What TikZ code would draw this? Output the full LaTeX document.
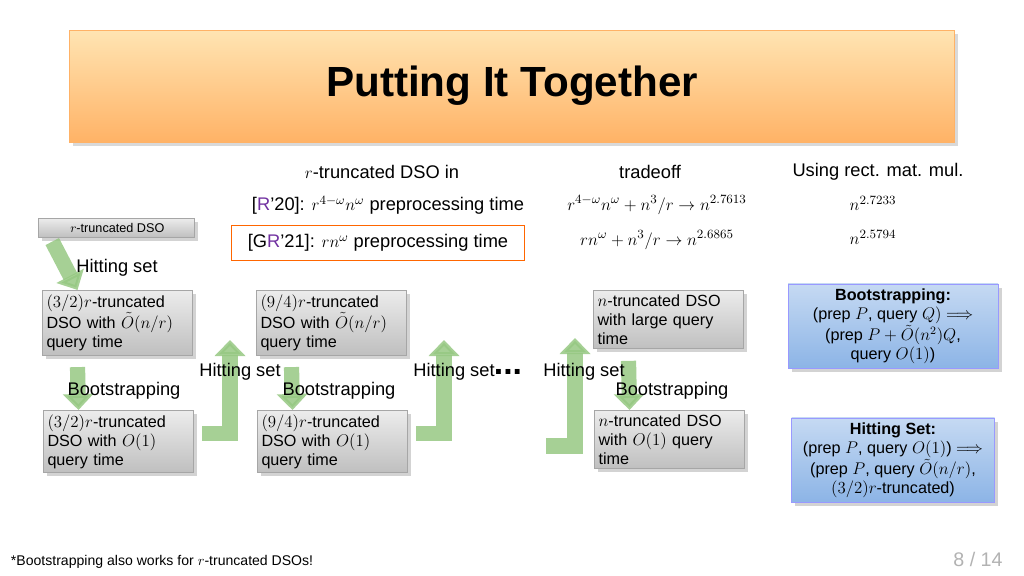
\documentclass[tikz,border=0pt]{standalone}
\usepackage{fontspec}
\usepackage{amsmath}
\setmainfont{Liberation Sans}
\usetikzlibrary{arrows.meta,shadows,positioning}

\definecolor{arrowgreen}{RGB}{150,200,130}
\definecolor{bluebox}{RGB}{140,180,230}
\definecolor{rpurple}{RGB}{112,48,160}

\tikzset{
  dso/.style={draw=gray!70,top color=gray!15,bottom color=gray!50,drop shadow={opacity=0.35},
    align=left,anchor=north west,inner sep=3pt,font=\fontsize{11.5}{13.5}\selectfont},
  rule/.style={draw=blue!40,top color=bluebox!50,bottom color=bluebox,drop shadow={opacity=0.35},
    align=center,font=\fontsize{11.5}{13.5}\selectfont},
  flow/.style={draw=arrowgreen,line width=0.38cm,-{Triangle[width=0.75cm,length=0.4cm]},opacity=0.85},
  lbl/.style={font=\fontsize{13}{15}\selectfont},
}
\newcommand{\Ot}{\tilde{O}}

\begin{document}
\begin{tikzpicture}[x=0.025cm,y=-0.025cm]
	\useasboundingbox (0,0) rectangle (1024,575);
	
	%title bar
	\node[draw=orange!60,top color=yellow!30!orange!30,bottom color=orange!60,drop shadow={opacity=0.3},
	  minimum width=885*0.025cm,minimum height=112*0.025cm] (title) at (512,86)
	  {\fontsize{30}{36}\selectfont\bfseries Putting It Together};
	
	%table of results
	\node[lbl] (hdso) at (382,172) {$r$-truncated DSO in};
	\node[lbl] (htrade) at (650,172) {tradeoff};
	\node[lbl] (hrect) at (878,172) {Using rect. mat. mul.};
	\node[lbl] (r20) at (388,205) {[\textcolor{rpurple}{R}'20]: $r^{4-\omega}n^\omega$ preprocessing time};
	\node[lbl] (t20) at (657,205) {$r^{4-\omega}n^\omega+n^3/r\to n^{2.7613}$};
	\node[lbl] (m20) at (873,203) {$n^{2.7233}$};
	\node[lbl,draw=orange!80!red,line width=0.8pt,minimum width=293*0.025cm,minimum height=35*0.025cm] (gr21) at (378,243)
	  {[G\textcolor{rpurple}{R}'21]: $rn^\omega$ preprocessing time};
	\node[lbl] (t21) at (657,240) {$rn^\omega+n^3/r\to n^{2.6865}$};
	\node[lbl] (m21) at (873,237) {$n^{2.5794}$};
	
	%dso boxes
	\node[dso,font=\fontsize{9}{10}\selectfont,minimum width=156*0.025cm,minimum height=19*0.025cm,inner sep=1pt] (start) at (38,218) {\,$r$-truncated DSO};
	\node[dso,text width=3.55cm] (a1) at (42,290) {$(3/2)r$-truncated\\DSO with $\Ot(n/r)$\\query time};
	\node[dso,text width=3.55cm] (a2) at (43,410) {$(3/2)r$-truncated\\DSO with $O(1)$\\query time};
	\node[dso,text width=3.55cm] (b1) at (256,290) {$(9/4)r$-truncated\\DSO with $\Ot(n/r)$\\query time};
	\node[dso,text width=3.55cm] (b2) at (257,410) {$(9/4)r$-truncated\\DSO with $O(1)$\\query time};
	\node[dso,text width=3.55cm] (c1) at (593,290) {$n$-truncated DSO\\with large query\\time};
	\node[dso,text width=3.55cm] (c2) at (594,410) {$n$-truncated DSO\\with $O(1)$ query\\time};
	
	%rule boxes
	\node[rule,minimum width=210*0.025cm,minimum height=84*0.025cm] (boot) at (893,326)
	  {\textbf{Bootstrapping:}\\(prep $P$, query $Q)\Longrightarrow$\\(prep $P+\Ot(n^2)Q$,\\query $O(1)$)};
	\node[rule,minimum width=203*0.025cm,minimum height=84*0.025cm] (hit) at (893,460)
	  {\textbf{Hitting Set:}\\(prep $P$, query $O(1)$) $\Longrightarrow$\\(prep $P$, query $\Ot(n/r)$,\\$(3/2)r$-truncated)};
	
	%green arrows
	\coordinate (ha) at (230,340);
	\coordinate (hb) at (444,340);
	\coordinate (hc) at (575,338);
	\draw[flow] ([xshift=-1.6cm,yshift=-0.1cm]start.south) -- ([xshift=-1.0cm]a1.north);
	\draw[flow] ([yshift=-0.3cm,xshift=-1.0cm]a1.south) -- ([xshift=-1.0cm]a2.north);
	\draw[flow] ([yshift=-0.3cm,xshift=-1.0cm]b1.south) -- ([xshift=-1.0cm]b2.north);
	\draw[flow] ([yshift=-0.3cm,xshift=-1.0cm]c1.south) -- ([xshift=-1.0cm]c2.north);
	\draw[flow] ([xshift=0.2cm,yshift=0.2cm]a2.east) -| (ha);
	\draw[flow] ([xshift=0.2cm,yshift=0.2cm]b2.east) -| (hb);
	\coordinate (cs) at (546,446);
	\draw[flow] (cs) -| (hc);
	
	%step labels
	\node[lbl] (l1) at (117,268) {Hitting set};
	\node[lbl] (l2) at (124,391) {Bootstrapping};
	\node[lbl] (l3) at (240,372) {Hitting set};
	\node[lbl] (l4) at (339,391) {Bootstrapping};
	\node[lbl] (l5) at (454,372) {Hitting set};
	\node[font=\fontsize{24}{24}\selectfont\bfseries] (dots) at (508,372) {...};
	\node[lbl] (l6) at (584,372) {Hitting set};
	\node[lbl] (l7) at (672,391) {Bootstrapping};
	
	%footer
	\node[anchor=west,font=\fontsize{10}{12}\selectfont] (foot) at (6,562) {*Bootstrapping also works for $r$-truncated DSOs!};
	\node[text=gray!60,font=\fontsize{14}{16}\selectfont] (page) at (978,559) {8 / 14};
\end{tikzpicture}
\end{document}
